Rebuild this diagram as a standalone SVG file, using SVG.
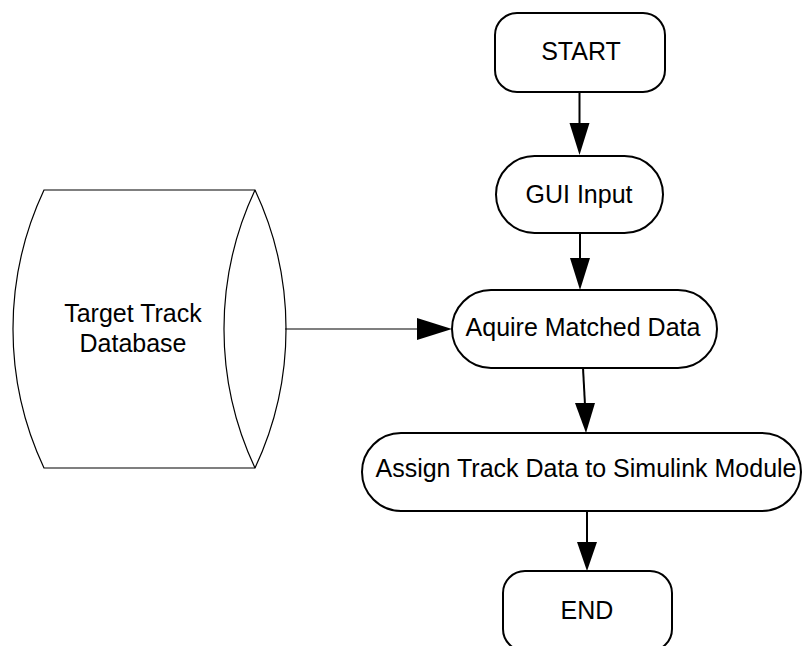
<svg xmlns="http://www.w3.org/2000/svg" width="802" height="646" viewBox="0 0 802 646">
  <defs>
    <style>
      .node { fill: #ffffff; stroke: #000000; stroke-width: 2; }
      .store { fill: #ffffff; stroke: #000000; stroke-width: 1.2; }
      .label { font-family: "Liberation Sans", Arial, sans-serif; font-size: 25px; fill: #000000; text-anchor: middle; }
      .flow { stroke: #000000; stroke-width: 2; fill: none; }
      .thin { stroke: #000000; stroke-width: 1.2; fill: none; }
      .head { fill: #000000; stroke: none; }
    </style>
  </defs>
  <rect width="802" height="646" fill="#ffffff"/>

  <!-- data store -->
  <g id="target-track-database">
    <path class="store" d="M44,190 L255,190 A327,327 0 0 1 255,468 L44,468 A327,327 0 0 1 44,190 Z"/>
    <path class="store" d="M255,190 A327,327 0 0 0 255,468"/>
    <text class="label" x="133" y="322">Target Track</text>
    <text class="label" x="133" y="352">Database</text>
  </g>

  <g id="start">
    <rect class="node" x="495" y="13" width="170" height="79" rx="22" ry="22"/>
    <text class="label" x="581" y="60">START</text>
  </g>

  <g id="gui-input">
    <rect class="node" x="496" y="156" width="167" height="77" rx="38.5" ry="38.5"/>
    <text class="label" x="579" y="203">GUI Input</text>
  </g>

  <g id="aquire-matched-data">
    <rect class="node" x="452" y="290" width="265" height="78" rx="39" ry="39"/>
    <text class="label" x="583" y="336">Aquire Matched Data</text>
  </g>

  <g id="assign-track-data">
    <rect class="node" x="362" y="433" width="439" height="78" rx="39" ry="39"/>
    <text class="label" x="586" y="477">Assign Track Data to Simulink Module</text>
  </g>

  <g id="end">
    <rect class="node" x="503" y="571" width="169" height="80" rx="22" ry="22"/>
    <text class="label" x="587" y="619">END</text>
  </g>

  <!-- connectors -->
  <g id="connectors">
    <line class="flow" x1="579.5" y1="92" x2="579.5" y2="125"/>
    <polygon class="head" points="569.5,123 589.5,123 579.5,155"/>

    <line class="flow" x1="580" y1="233" x2="580" y2="260"/>
    <polygon class="head" points="570,258 590,258 580,290"/>

    <line class="thin" x1="285" y1="329" x2="419" y2="329"/>
    <polygon class="head" points="417,318 417,340 452,329"/>

    <line class="flow" x1="583" y1="368" x2="585" y2="405"/>
    <polygon class="head" points="575,403 595,403 586,433"/>

    <line class="flow" x1="587" y1="511" x2="587" y2="544"/>
    <polygon class="head" points="577,542 597,542 587,571"/>
  </g>
</svg>
